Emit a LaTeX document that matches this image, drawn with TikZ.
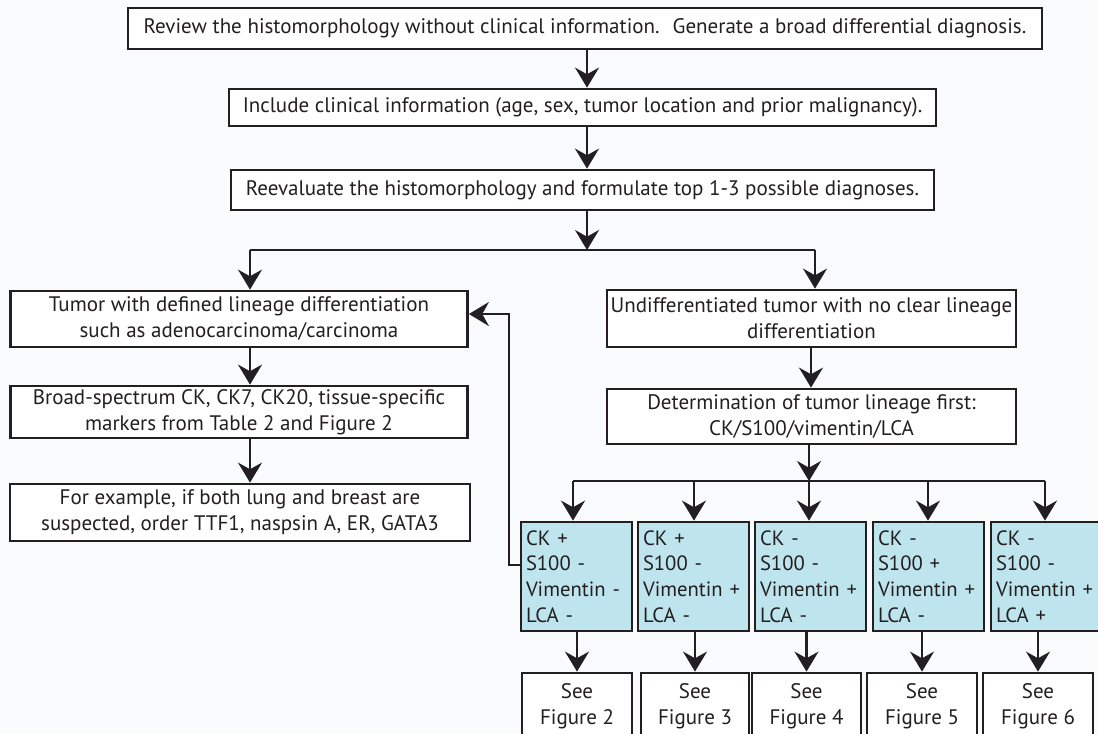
\documentclass[tikz,border=0pt]{standalone}
\usepackage{fontspec}
\setmainfont{PT Sans}
\usetikzlibrary{arrows.meta}
\definecolor{ink}{RGB}{35,31,32}
\definecolor{paper}{RGB}{250,251,253}
\definecolor{markerfill}{RGB}{190,228,238}
\tikzset{
  sz/.style 2 args={minimum width=#1*0.75pt, minimum height=#2*0.75pt},
  box/.style={draw=ink, line width=2.1pt, fill=white, align=center, inner sep=0pt,
    font=\fontsize{15.75}{19.5}\selectfont, text=ink},
  marker/.style={box, fill=markerfill, align=left, text width=101*0.75pt,
    font=\fontsize{15.5}{19.3}\selectfont},
  link/.style={draw=ink, line width=1.6pt},
  arr/.style={link, -{Stealth[length=15pt, width=18pt, inset=5pt]}},
}
\begin{document}
\begin{tikzpicture}[x=0.75pt, y=-0.75pt]
\path[use as bounding box, fill=paper] (0,0) rectangle (1098,733);

% main sequence
\node[box, sz={914}{41}] (top) at (585,28.5)
  {Review the histomorphology without clinical information.~ Generate a broad differential diagnosis.};
\node[box, sz={707}{37}] (clin) at (582.5,107.5)
  {Include clinical information (age, sex, tumor location and prior malignancy).};
\node[box, sz={703}{40}] (reev) at (582.5,190)
  {Reevaluate the histomorphology and formulate top 1-3 possible diagnoses.};

% left branch
\node[box, sz={457}{56}] (defl) at (239,319)
  {Tumor with defined lineage differentiation\\such as adenocarcinoma/carcinoma};
\node[box, sz={457}{52}] (broad) at (239,412)
  {Broad-spectrum CK, CK7, CK20, tissue-specific\\markers from Table 2 and Figure 2};
\node[box, sz={460}{57}] (ex) at (240,512.5)
  {For example, if both lung and breast are\\suspected, order TTF1, naspsin A, ER, GATA3};

% right branch
\node[box, sz={409}{57}] (undiff) at (811.5,318.5)
  {Undifferentiated tumor with no clear lineage\\differentiation};
\node[box, sz={409}{55}] (determ) at (811.5,416.5)
  {Determination of tumor lineage first:\\CK/S100/vimentin/LCA};

% marker profiles
\node[marker, sz={111}{109}] (b1) at (576.5,576.5) {CK +\\S100 -\\Vimentin -\\LCA -};
\node[marker, sz={111}{109}] (b2) at (693.5,576.5) {CK +\\S100 -\\Vimentin +\\LCA -};
\node[marker, sz={111}{109}] (b3) at (810.5,576.5) {CK -\\S100 -\\Vimentin +\\LCA -};
\node[marker, sz={111}{109}] (b4) at (928.5,576.5) {CK -\\S100 +\\Vimentin +\\LCA -};
\node[marker, sz={111}{109}] (b5) at (1046.5,576.5) {CK -\\S100 -\\Vimentin +\\LCA +};

% figure references
\node[box, sz={110}{66}] (s1) at (577,706) {See\\Figure 2};
\node[box, sz={108}{66}] (s2) at (695,706) {See\\Figure 3};
\node[box, sz={109}{66}] (s3) at (806.5,706) {See\\Figure 4};
\node[box, sz={110}{66}] (s4) at (922,706) {See\\Figure 5};
\node[box, sz={110}{66}] (s5) at (1038,706) {See\\Figure 6};

% spine
\coordinate (sp) at (587,0);
\draw[arr] (top.south -| sp) -- (clin.north -| sp);
\draw[arr] (clin.south -| sp) -- (reev.north -| sp);

% first split
\coordinate (ja) at (250,250);
\coordinate (jb) at (815,250);
\draw[link] (ja) -- (jb);
\draw[arr] (reev.south -| sp) -- (sp |- ja);
\draw[arr] (ja) -- (defl.north -| ja);
\draw[arr] (jb) -- (undiff.north -| jb);

% left column
\draw[arr] (defl.south -| ja) -- (broad.north -| ja);
\draw[arr] (broad.south -| ja) -- (ex.north -| ja);

% right column
\coordinate (rs) at (811,0);
\draw[arr] (undiff.south -| rs) -- (determ.north -| rs);

% second split
\coordinate (k1) at (573,481);
\coordinate (k2) at (694,481);
\coordinate (k3) at (809,481);
\coordinate (k4) at (928,481);
\coordinate (k5) at (1045,481);
\draw[link] (k1) -- (k5);
\draw[arr] (determ.south -| k3) -- (k3);
\foreach \i in {1,...,5}{
  \draw[arr] (k\i) -- (b\i.north -| k\i);
  \draw[arr] (b\i.south -| s\i.north) -- (s\i.north);
}

% feedback to the lineage-defined branch
\coordinate (f1) at (509,565);
\coordinate (f2) at (509,314);
\draw[arr] (b1.west |- f1) -- (f1) -- (f2) -- (defl.east |- f2);
\end{tikzpicture}
\end{document}
